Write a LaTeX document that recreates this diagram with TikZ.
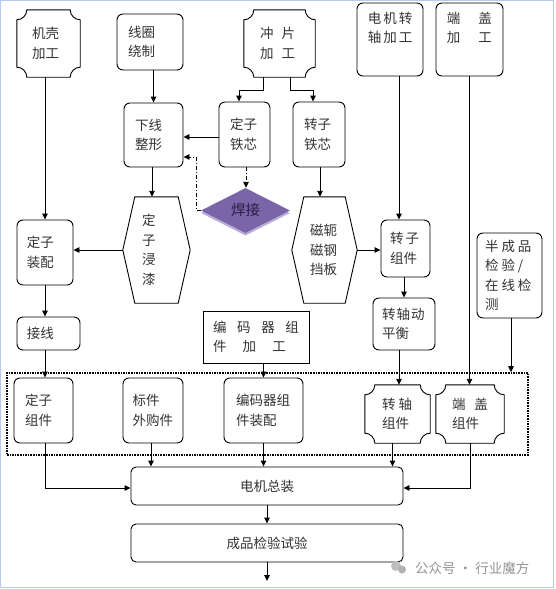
\documentclass[tikz,border=0pt]{standalone}
\usepackage{fontspec}
\newfontfamily\cjk{Noto Sans CJK SC}
\usetikzlibrary{arrows.meta,calc,shapes.geometric,shadows}

\definecolor{weldfill}{RGB}{124,100,168}
\definecolor{weldshade}{RGB}{186,172,214}
\definecolor{weldtext}{RGB}{45,30,69}
\definecolor{framecol}{RGB}{183,201,232}

\tikzset{
  flow/.style={font=\cjk\fontsize{13.5}{19.5}\selectfont, text=black!80, align=left, inner ysep=0pt},
  rbox/.style={flow, draw, line width=0.9pt, rounded corners=6pt},
  sbox/.style={flow, draw, line width=0.9pt},
  card/.style={flow},
  hexa/.style={flow},
  weld/.style={diamond, fill=weldfill, inner sep=0pt, minimum width=89pt, minimum height=45pt,
    font=\cjk\fontsize{14.5}{16}\selectfont, text=weldtext,
    drop shadow={shadow xshift=0pt, shadow yshift=-2.5pt, fill=weldshade, opacity=1}},
  group/.style={draw, densely dotted, line width=1.6pt, inner sep=0pt},
  line/.style={line width=0.9pt},
  arr/.style={line, -{Triangle[length=6pt,width=5.5pt]}},
  dashdot/.style={arr, dash pattern=on 4pt off 2pt on 1pt off 2pt},
}

% outline with hollow corners
\newcommand{\cardedge}[1]{%
  \draw[line] ([xshift=10pt]#1.north west) -- ([xshift=-10pt]#1.north east)
    .. controls +(0,5.5) and +(-5.5,0) .. ([yshift=-10pt]#1.north east)
    -- ([yshift=10pt]#1.south east)
    .. controls +(-5.5,0) and +(0,-5.5) .. ([xshift=-10pt]#1.south east)
    -- ([xshift=10pt]#1.south west)
    .. controls +(0,-5.5) and +(5.5,0) .. ([yshift=10pt]#1.south west)
    -- ([yshift=-10pt]#1.north west)
    .. controls +(5.5,0) and +(0,5.5) .. ([xshift=10pt]#1.north west) -- cycle;}
% six sided outline
\newcommand{\hexedge}[1]{%
  \draw[line] ([xshift=12pt]#1.north west) -- ([xshift=-12pt]#1.north east) -- (#1.east)
    -- ([xshift=-12pt]#1.south east) -- ([xshift=12pt]#1.south west) -- (#1.west) -- cycle;}

\begin{document}
\begin{tikzpicture}[x=1pt,y=-1pt]
  \useasboundingbox (0,0) rectangle (556,589);
  \fill[white] (0,0) rectangle (556,589);
  \draw[framecol, line width=1pt] (0.5,0.5) rectangle (553.5,587);

  % top row
  \node[card, inner xsep=15pt, text width=33pt, minimum height=67pt] (jike) at (48.5,43.5) {机壳\\加工};
  \cardedge{jike}
  \node[rbox, inner xsep=11pt, text width=44pt, minimum height=56pt] (xianquan) at (150,42) {线圈\\绕制};
  \node[card, inner xsep=16pt, text width=39pt, minimum height=67pt] (chongpian) at (279.5,43.5) {冲\hspace{.6em}片\\加\hspace{.6em}工};
  \cardedge{chongpian}
  \node[rbox, minimum width=66pt, minimum height=73pt] (zhuanzhou) at (390,39.5) {};
  \node[flow, anchor=north west, inner sep=0pt] (zhuanzhoutxt) at ([xshift=11pt,yshift=-9pt]zhuanzhou.north west)
    {电\hspace{2pt}机\hspace{2pt}转\\轴\hspace{2pt}加\hspace{2pt}工};
  \node[rbox, minimum width=67pt, minimum height=73pt] (duangai) at (469.5,39.5) {};
  \node[flow, anchor=north west, inner sep=0pt] (duangaitxt) at ([xshift=11pt,yshift=-9pt]duangai.north west)
    {端\hspace{18pt}盖\\加\hspace{18pt}工};

  % second row
  \node[rbox, inner xsep=11pt, text width=37pt, minimum height=64pt] (xiaxian) at (153.5,135) {下线\\整形};
  \node[rbox, inner xsep=11pt, text width=29pt, minimum height=65pt] (dingtiexin) at (244.5,134.5) {定子\\铁芯};
  \node[rbox, inner xsep=11pt, text width=30pt, minimum height=65pt] (zhuantiexin) at (319,134.5) {转子\\铁芯};
  \node[weld] (hanjie) at (245.5,210.5) {焊接};

  % third row
  \node[hexa, inner xsep=19pt, text width=29pt, minimum height=106pt] (jinqi) at (156.5,250) {定\\子\\浸\\漆};
  \hexedge{jinqi}
  \node[hexa, inner xsep=18pt, text width=29pt, minimum height=106pt] (cie) at (324.5,250) {磁轭\\磁钢\\挡板};
  \hexedge{cie}
  \node[rbox, inner xsep=10pt, text width=36pt, minimum height=65pt] (dingzhuangpei) at (45,252.5) {定子\\装配};
  \node[rbox, inner xsep=9pt, text width=31pt, minimum height=57pt] (zhuanzizujian) at (405.5,248.5) {转\hspace{2pt}子\\组件};
  \node[rbox, inner xsep=8pt, text width=49pt, minimum height=85pt] (jiance) at (509.5,275.5)
    {半\hspace{3pt}成\hspace{3pt}品\\检\hspace{3pt}验\hspace{3pt}/\\在\hspace{3pt}线\hspace{3pt}检\\测};
  \node[rbox, inner xsep=10pt, text width=43pt, minimum height=33pt] (jiexian) at (48.5,333.5) {接线};
  \node[rbox, inner xsep=9pt, text width=44pt, minimum height=52pt] (dongpingheng) at (404,324) {转\hspace{1pt}轴\hspace{1pt}动\\平衡};
  \node[sbox, inner xsep=10pt, text width=86pt, minimum height=52pt] (bianmajiagong) at (256,337)
    {\makebox[86pt][l]{编\hfill 码\hfill 器\hfill 组}\\\makebox[73pt][l]{件\hfill 加\hfill 工}};

  % components
  \node[group, minimum width=521pt, minimum height=82pt] (zujian) at (267.5,414) {};
  \node[rbox, inner xsep=11pt, text width=37pt, minimum height=65pt] (dingzizujian) at (43.5,410.5) {定子\\组件};
  \node[rbox, inner xsep=9.5pt, text width=41pt, minimum height=65pt] (biaojian) at (153,410.5) {标件\\外购件};
  \node[rbox, inner xsep=12pt, text width=55pt, minimum height=65pt] (bianmazhuangpei) at (263.5,410.5) {编码器组\\件装配};
  \node[card, inner xsep=17pt, text width=31pt, minimum height=58pt] (zhuanzhouzujian) at (397.5,414) {转\hspace{3pt}轴\\组件};
  \cardedge{zhuanzhouzujian}
  \node[card, inner xsep=16pt, text width=36pt, minimum height=58pt] (duangaizujian) at (470,414) {端\hspace{9pt}盖\\组件};
  \cardedge{duangaizujian}

  % bottom
  \node[rbox, align=center, minimum width=272pt, minimum height=38pt, rounded corners=5pt] (zongzhuang) at (267,486) {电机总装};
  \node[rbox, align=center, minimum width=272pt, minimum height=38pt, rounded corners=5pt] (chengpin) at (267,543) {成品检验试验};
  \coordinate (end) at (267,581);

  % connectors
  \draw[arr] (jike.south -| dingzhuangpei.north) -- (dingzhuangpei.north);
  \draw[arr] (dingzhuangpei.south) -- (dingzhuangpei.south |- jiexian.north);
  \draw[arr] (jiexian.south -| dingzhuangpei.south) -- (dingzhuangpei.south |- dingzizujian.north);
  \draw[arr] (xianquan.south -| xiaxian.north) -- (xiaxian.north);
  \draw[arr] ([xshift=-1.5pt]xiaxian.south) -- ([xshift=-1.5pt]xiaxian.south |- jinqi.north);
  \draw[arr] ([xshift=-16.5pt]chongpian.south) -- ++(0,13) -| ([xshift=-5.5pt]dingtiexin.north);
  \draw[arr] ([xshift=10.5pt]chongpian.south) -- ++(0,13) -| ([xshift=-6pt]zhuantiexin.north);
  \draw[arr] ([yshift=-2.5pt]dingtiexin.west) -- ([yshift=-2.5pt]dingtiexin.west -| xiaxian.east);
  \draw[dashdot] ([xshift=1.5pt]dingtiexin.south) -- ([xshift=1.5pt]dingtiexin.south |- hanjie.north);
  \draw[dashdot] (hanjie.west) -- ++(-4,0) |- ([yshift=-22pt]xiaxian.east);
  \draw[arr] ([xshift=1pt]zhuantiexin.south) -- ([xshift=1pt]zhuantiexin.south |- cie.north);
  \draw[arr] (jinqi.west) -- (jinqi.west -| dingzhuangpei.east);
  \draw[arr] (cie.east) -- (cie.east -| zhuanzizujian.west);
  \draw[arr] ([xshift=9pt]zhuanzhou.south) -- ([xshift=9pt]zhuanzhou.south |- zhuanzizujian.north);
  \draw[arr] (zhuanzizujian.south -| dongpingheng.north) -- (dongpingheng.north);
  \draw[arr] ([xshift=-5pt]dongpingheng.south) -- ([xshift=-5pt]dongpingheng.south |- zhuanzhouzujian.north);
  \draw[arr] (duangai.south) -- (duangai.south |- duangaizujian.north);
  \draw[arr] ([xshift=1.5pt]jiance.south) -- ([xshift=1.5pt]jiance.south |- zujian.north);
  \draw[arr] (bianmajiagong.south -| bianmazhuangpei.north) -- (bianmazhuangpei.north);
  \draw[arr] ([xshift=-2pt]biaojian.south) -- ([xshift=-2pt]biaojian.south |- zongzhuang.north);
  \draw[arr] (bianmazhuangpei.south) -- (bianmazhuangpei.south |- zongzhuang.north);
  \draw[arr] ([xshift=-5pt]zhuanzhouzujian.south) -- ([xshift=-5pt]zhuanzhouzujian.south |- zongzhuang.north);
  \draw[arr] (dingzizujian.south -| dingzhuangpei.south) |- ([yshift=-2pt]zongzhuang.west);
  \draw[arr] (duangaizujian.south) |- ([yshift=-2pt]zongzhuang.east);
  \draw[arr] (zongzhuang.south) -- (chengpin.north);
  \draw[arr] (chengpin.south) -- (end);

  % watermark
  \fill[black!25] (396,566) circle (5pt);
  \fill[black!30] (402,569.5) circle (4pt);
  \node[font=\cjk\fontsize{13.5}{15}\selectfont, text=black!42, anchor=west, inner sep=0pt] (mark) at (415,568)
    {公众号 · 行业魔方};
\end{tikzpicture}
\end{document}
